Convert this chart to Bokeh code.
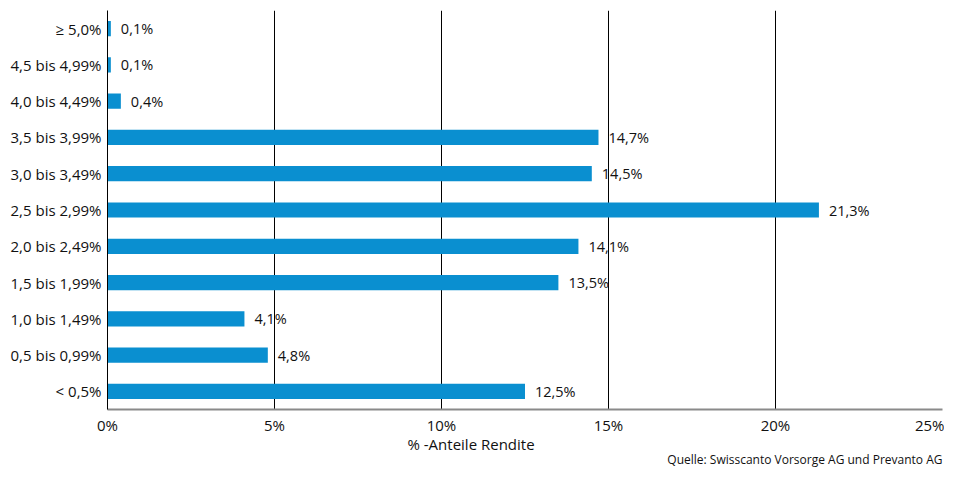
from bokeh.plotting import figure
from bokeh.models import ColumnDataSource, FixedTicker, Title
from bokeh.core.properties import value
from bokeh.embed import file_html
from bokeh.resources import INLINE

categories = ["< 0,5%", "0,5 bis 0,99%", "1,0 bis 1,49%", "1,5 bis 1,99%",
              "2,0 bis 2,49%", "2,5 bis 2,99%", "3,0 bis 3,49%", "3,5 bis 3,99%",
              "4,0 bis 4,49%", "4,5 bis 4,99%", "≥ 5,0%"]
shares = [12.5, 4.8, 4.1, 13.5, 14.1, 21.3, 14.5, 14.7, 0.4, 0.1, 0.1]
share_labels = ["12,5%", "4,8%", "4,1%", "13,5%", "14,1%", "21,3%", "14,5%",
                "14,7%", "0,4%", "0,1%", "0,1%"]
x_ticks = [0, 5, 10, 15, 20, 25]
x_tick_labels = ["0%", "5%", "10%", "15%", "20%", "25%"]
x_title = "% -Anteile Rendite"
source_note = "Quelle: Swisscanto Vorsorge AG und Prevanto AG"

FONT = "Open Sans"
BLUE = "#0a8fd0"
TXT = "#111111"

src = ColumnDataSource(dict(cat=categories, val=shares, lab=share_labels))

p = figure(width=944, height=467, y_range=categories, x_range=(0, 25),
           output_backend="svg", toolbar_location=None,
           min_border_left=107, min_border_right=2, min_border_top=10,
           min_border_bottom=0)
p.outline_line_color = None
p.background_fill_color = "white"
p.border_fill_color = "white"
p.y_range.range_padding = 0

p.hbar(y="cat", right="val", left=0, height=0.42, source=src,
       fill_color=BLUE, line_color=None)
p.text(x="val", y="cat", text="lab", source=src, x_offset=10,
       text_baseline="middle", text_align="left",
       text_font=value(FONT), text_font_size="14.5px", text_color=TXT)

# x axis: the last label sits flush with the axis end, as in the original
label_ticks = x_ticks[:-1] + [x_ticks[-1] - 0.35]
p.xaxis.ticker = FixedTicker(ticks=label_ticks)
p.xaxis.major_label_overrides = {t: l for t, l in zip(label_ticks, x_tick_labels)}
p.xaxis.axis_line_color = "#8a8a8a"
p.xaxis.axis_line_width = 2
p.xaxis.major_tick_line_color = None
p.xaxis.minor_tick_line_color = None
p.xaxis.major_tick_out = 0
p.xaxis.major_tick_in = 0
p.xaxis.minor_tick_out = 0
p.xaxis.major_label_standoff = 5
p.xaxis.major_label_text_font = FONT
p.xaxis.major_label_text_font_size = "15px"
p.xaxis.major_label_text_color = TXT

# y axis
p.yaxis.axis_line_color = "black"
p.yaxis.axis_line_width = 1
p.yaxis.major_tick_line_color = None
p.yaxis.minor_tick_line_color = None
p.yaxis.major_tick_out = 0
p.yaxis.major_tick_in = 0
p.yaxis.major_label_standoff = 6
p.yaxis.major_label_text_font = FONT
p.yaxis.major_label_text_font_size = "15px"
p.yaxis.major_label_text_color = TXT

# grids
p.ygrid.grid_line_color = None
p.xgrid.ticker = FixedTicker(ticks=x_ticks[1:-1])
p.xgrid.grid_line_color = "black"
p.xgrid.grid_line_width = 1

# axis title and source note
p.add_layout(Title(text=x_title, align="left", offset=300, standoff=-7,
                   vertical_align="top",
                   text_font=FONT, text_font_size="15px", text_font_style="normal",
                   text_color=TXT), "below")
p.add_layout(Title(text=source_note, align="right", offset=0, standoff=-4,
                   vertical_align="top",
                   text_font=FONT, text_font_size="12px", text_font_style="normal",
                   text_color=TXT), "below")

open("out.html", "w").write(file_html(p, INLINE))
